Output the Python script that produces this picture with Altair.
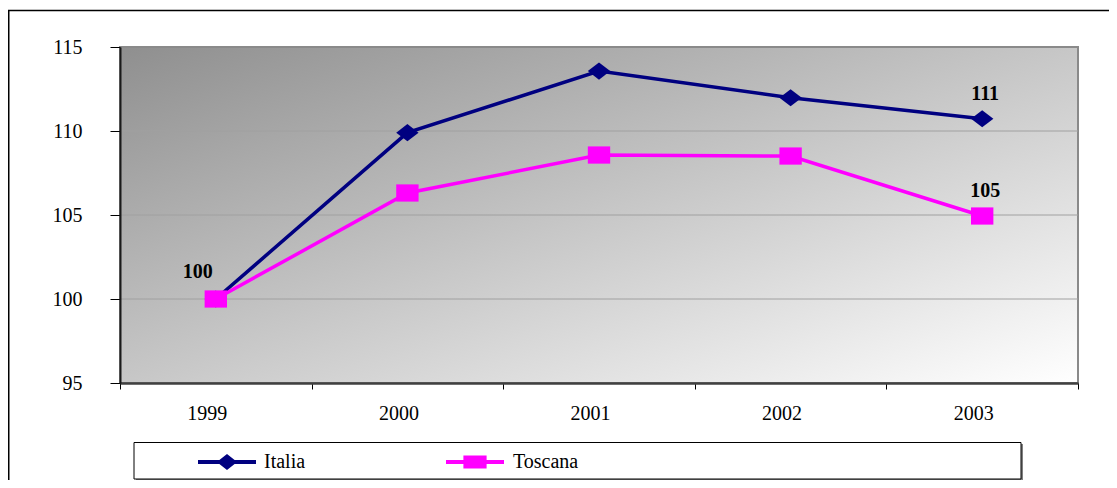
import altair as alt
import pandas as pd

# ---- data ----
years = ["1999", "2000", "2001", "2002", "2003"]
italia = [100.0, 109.9, 113.57, 111.98, 110.73]
toscana = [100.0, 106.31, 108.57, 108.51, 104.94]
series = ["Italia", "Toscana"]
colors = ["#000080", "#ff00ff"]
y_ticks = [95, 100, 105, 110, 115]
grid_values = [100, 105, 110]

df = pd.DataFrame({
    "anno": years * 2,
    "serie": ["Italia"] * len(years) + ["Toscana"] * len(years),
    "valore": italia + toscana,
})
one = pd.DataFrame({"k": [0]})
grid_df = pd.DataFrame({"g": grid_values})

FONT = "Liberation Serif"
W, H = 958, 336

xscale = alt.Scale(type="band", domain=years, paddingInner=0, paddingOuter=0)
yscale = alt.Scale(domain=[95, 115], nice=False, zero=False)
cscale = alt.Scale(domain=series, range=colors)

xaxis = alt.Axis(title=None, grid=False, labelAngle=0, tickBand="extent",
                 labelOffset=-9, tickSize=6, tickColor="#000000", tickWidth=1,
                 labelPadding=14, labelFont=FONT, labelFontSize=20,
                 labelColor="#000000", domainColor="#404040", domainWidth=2.5,
                 zindex=1)
yaxis = alt.Axis(title=None, grid=False, values=y_ticks, tickSize=10,
                 tickColor="#000000", tickWidth=1, labelPadding=28,
                 labelFont=FONT, labelFontSize=20, labelColor="#000000",
                 domainColor="#1a1a1a", domainWidth=2, zindex=1)

X = alt.X("anno:N", sort=years, scale=xscale, axis=xaxis)
Y = alt.Y("valore:Q", scale=yscale, axis=yaxis)

# outer frame of the whole chart (decoration)
frame = alt.Chart(one).mark_rect(fillOpacity=0, stroke="#000000", strokeWidth=1.5).encode(
    x=alt.value(-111.25), x2=alt.value(1200), y=alt.value(-36.5), y2=alt.value(700))

# plot area gradient
grad = alt.LinearGradient(
    gradient="linear", x1=0, y1=0, x2=1, y2=1,
    stops=[alt.GradientStop(offset=0, color="#8f8f8f"),
           alt.GradientStop(offset=1, color="#ffffff")])
bg = alt.Chart(one).mark_rect(fill=grad, stroke="#8a8a8a", strokeWidth=2).encode(
    x=alt.value(0), x2=alt.value("width"), y=alt.value(0), y2=alt.value("height"))

grid = alt.Chart(grid_df).mark_rule(color="#a0a0a0", strokeWidth=1).encode(
    y=alt.Y("g:Q", scale=yscale, axis=yaxis))

lines = alt.Chart(df).mark_line(strokeWidth=3.5).encode(
    x=X, y=Y, color=alt.Color("serie:N", scale=cscale, legend=None))

diamond = "M0,-0.77L1,0L0,0.77L-1,0Z"
square = "M-1,-0.77H1V0.77H-1Z"
pts_it = alt.Chart(df).transform_filter("datum.serie == 'Italia'").mark_point(
    filled=True, opacity=1, size=500, shape=diamond, strokeWidth=0).encode(
    x=X, y=Y, color=alt.Color("serie:N", scale=cscale, legend=None))
pts_to = alt.Chart(df).transform_filter("datum.serie == 'Toscana'").mark_point(
    filled=True, opacity=1, size=500, shape=square, strokeWidth=0).encode(
    x=X, y=Y, color=alt.Color("serie:N", scale=cscale, legend=None))

lab_end = alt.Chart(df).transform_filter("datum.anno == '2003'").mark_text(
    font=FONT, fontSize=20, fontWeight="bold", color="#000000", dx=3, dy=-25).encode(
    x=X, y=Y, text=alt.Text("valore:Q", format=".0f"))
lab_start = alt.Chart(df).transform_filter(
    "datum.anno == '1999' && datum.serie == 'Italia'").mark_text(
    font=FONT, fontSize=20, fontWeight="bold", color="#000000", dx=-18, dy=-27).encode(
    x=X, y=Y, text=alt.Text("valore:Q", format=".0f"))

# legend box (decoration)
leg_shadow = alt.Chart(one).mark_rect(fill="#808080").encode(
    x=alt.value(16), x2=alt.value(903), y=alt.value(397), y2=alt.value(434))
leg_box = alt.Chart(one).mark_rect(fill="#ffffff", stroke="#000000", strokeWidth=1).encode(
    x=alt.value(14), x2=alt.value(901), y=alt.value(395.5), y2=alt.value(432))

# legend entries (line + marker symbol, then label)
leg_symbols = [
    "M-1,-0.07H1V0.07H-1Z M0,-0.28L0.35,0L0,0.28L-0.35,0Z",
    "M-1,-0.07H1V0.07H-1Z M-0.4,-0.22H0.4V0.22H-0.4Z",
]
leg_sym_x = [107, 355]
leg_txt_x = [144, 393]
legend_layers = []
for i, s in enumerate(series):
    sdf = pd.DataFrame({"serie": [s]})
    legend_layers.append(
        alt.Chart(sdf).mark_point(filled=True, opacity=1, strokeWidth=0,
                                  shape=leg_symbols[i], size=3364).encode(
            x=alt.value(leg_sym_x[i]), y=alt.value(415),
            color=alt.Color("serie:N", scale=cscale, legend=None)))
    legend_layers.append(
        alt.Chart(sdf).mark_text(font=FONT, fontSize=20, color="#000000",
                                 align="left", baseline="middle").encode(
            x=alt.value(leg_txt_x[i]), y=alt.value(415), text="serie:N"))

chart = alt.layer(frame, bg, grid, lines, pts_it, pts_to, lab_end, lab_start,
                  leg_shadow, leg_box, *legend_layers).properties(
    width=W, height=H,
    autosize=alt.AutoSizeParams(type="none"),
    padding={"left": 112, "top": 39, "right": 31, "bottom": 97},
    background="#ffffff",
).configure_view(strokeWidth=0)

chart.save("out.html", embed_options={"renderer": "svg", "actions": False})
